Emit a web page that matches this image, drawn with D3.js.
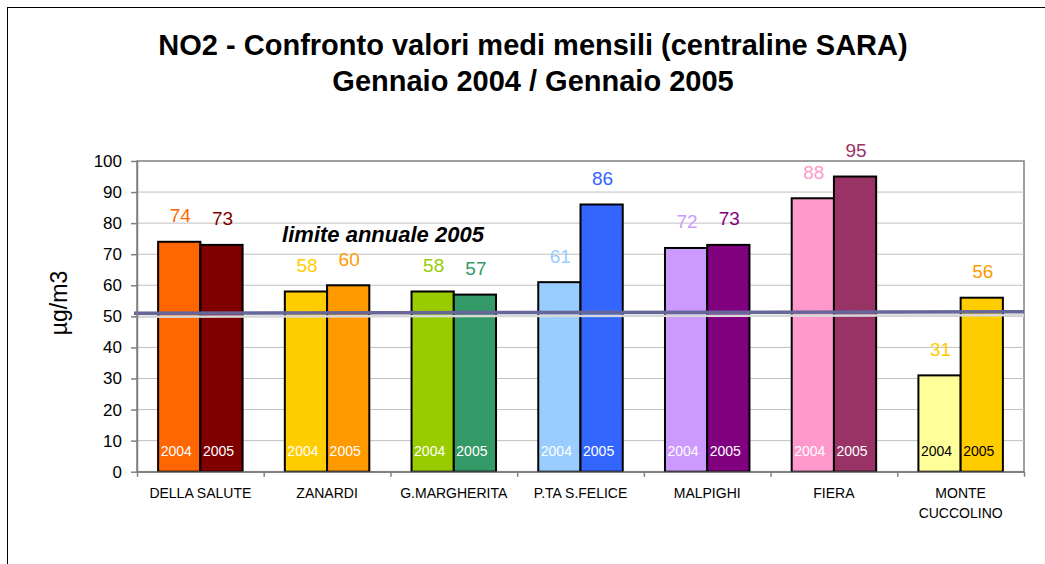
<!DOCTYPE html>
<html><head><meta charset="utf-8">
<script src="https://cdn.jsdelivr.net/npm/d3@7"></script>
<style>
body{margin:0;background:#fff}
svg{display:block;font-family:"Liberation Sans",Arial,Helvetica,sans-serif}
</style>
</head><body>
<svg id="c" width="1045" height="564"></svg>
<script>
// ---- data ----
const categories = ["DELLA SALUTE","ZANARDI","G.MARGHERITA","P.TA S.FELICE","MALPIGHI","FIERA","MONTE\nCUCCOLINO"];
const years = ["2004","2005"];
const values2004 = [74,58,58,61,72,88,31];
const values2005 = [73,60,57,86,73,95,56];
const colors2004 = ["#FF6600","#FFCC00","#99CC00","#99CCFF","#CC99FF","#FF99CC","#FFFF99"];
const colors2005 = ["#800000","#FF9900","#339966","#3366FF","#800080","#993366","#FFCC00"];
const valueLabelColors2004 = ["#FF6600","#FFCC00","#99CC00","#99CCFF","#CC99FF","#FF99CC","#FFCC00"];
const valueLabelColors2005 = ["#800000","#FF9900","#339966","#3366FF","#800080","#993366","#FF9900"];
const yearLabelColors2004 = ["#fff","#fff","#fff","#fff","#fff","#fff","#000"];
const yearLabelColors2005 = ["#fff","#fff","#fff","#fff","#fff","#fff","#000"];
const yTicks = [0,10,20,30,40,50,60,70,80,90,100];
const limitValues = [51.0, 51.5];
const limitLabel = "limite annuale 2005";
const titleLines = ["NO2 - Confronto valori medi mensili (centraline SARA)","Gennaio 2004 / Gennaio 2005"];
const yTitle = "µg/m3";

// ---- layout ----
const svg = d3.select("#c");
const L = 137, R = 1024, T = 161, B = 471.7;

svg.append("rect").attr("x",7.5).attr("y",7.5).attr("width",1100).attr("height",700)
  .attr("fill","#fff").attr("stroke","#000").attr("stroke-width",1);

const x = d3.scaleBand().domain(d3.range(categories.length)).range([L,R]).padding(0);
const bw = x.bandwidth();
const xi = d3.scaleBand().domain(years).range([bw/6, bw*5/6]).padding(0);
const y = d3.scaleLinear().domain([0,100]).range([B,T]);

// plot area
svg.append("rect").attr("x",L).attr("y",T).attr("width",R-L).attr("height",B-T)
  .attr("fill","#fff").attr("stroke","#808080").attr("stroke-width",1.5);

// gridlines
svg.append("g").selectAll("line").data(yTicks.filter(d=>d>0&&d<100)).join("line")
  .attr("x1",L).attr("x2",R).attr("y1",d=>y(d)).attr("y2",d=>y(d))
  .attr("stroke","#c0c0c0").attr("stroke-width",1);

// bars
const rows = [];
categories.forEach((c,i)=>{
  rows.push({i,year:"2004",v:values2004[i],fill:colors2004[i],lc:valueLabelColors2004[i],yc:yearLabelColors2004[i]});
  rows.push({i,year:"2005",v:values2005[i],fill:colors2005[i],lc:valueLabelColors2005[i],yc:yearLabelColors2005[i]});
});
const bx = d=>x(d.i)+xi(d.year);
const bars = svg.append("g");
bars.selectAll("rect").data(rows).join("rect")
  .attr("x",bx).attr("y",d=>y(d.v)).attr("width",xi.bandwidth()).attr("height",d=>y(0)-y(d.v))
  .attr("fill",d=>d.fill).attr("stroke","#000").attr("stroke-width",2);

// year labels inside bars
svg.append("g").selectAll("text").data(rows).join("text")
  .attr("x",d=>bx(d)+xi.bandwidth()/2-3).attr("y",y(0)-15.5)
  .attr("text-anchor","middle").attr("font-size",14).attr("fill",d=>d.yc).text(d=>d.year);

// value labels
svg.append("g").selectAll("text").data(rows).join("text")
  .attr("x",d=>bx(d)+xi.bandwidth()/2+1).attr("y",d=>y(d.v)-19.5)
  .attr("text-anchor","middle").attr("font-size",19).attr("fill",d=>d.lc).text(d=>d.v);

// limit line
const lx = d3.scaleLinear().domain([0,1]).range([L-3,R]);
svg.append("line").attr("x1",lx(0)).attr("x2",lx(1))
  .attr("y1",y(limitValues[0])+3.5).attr("y2",y(limitValues[1])+3.5)
  .attr("stroke","#d8d8d8").attr("stroke-width",2.5);
svg.append("line").attr("x1",lx(0)).attr("x2",lx(1))
  .attr("y1",y(limitValues[0])).attr("y2",y(limitValues[1]))
  .attr("stroke","#666699").attr("stroke-width",3.5);
svg.append("text").attr("x",383).attr("y",241.5).attr("text-anchor","middle")
  .attr("font-size",22).attr("font-weight","bold").attr("font-style","italic")
  .attr("fill","#000").text(limitLabel);

// y axis
const ya = svg.append("g").attr("transform",`translate(${L},0)`)
  .call(d3.axisLeft(y).tickValues(yTicks).tickSize(6).tickSizeOuter(0).tickPadding(9));
ya.select(".domain").attr("stroke","#808080").attr("stroke-width",1.5);
ya.selectAll(".tick line").attr("stroke","#808080").attr("stroke-width",1.5);
ya.selectAll(".tick text").attr("font-size",17).attr("fill","#000")
  .attr("font-family","'Liberation Sans',Arial,sans-serif");

// x axis (boundary ticks)
const xb = d3.scaleLinear().domain([0,categories.length]).range([L,R]);
const xa = svg.append("g").attr("transform",`translate(0,${B})`)
  .call(d3.axisBottom(xb).tickValues(d3.range(categories.length+1)).tickSize(5).tickSizeOuter(0).tickFormat(""));
xa.select(".domain").attr("stroke","#808080").attr("stroke-width",1.5);
xa.selectAll(".tick line").attr("stroke","#808080").attr("stroke-width",1.5);

// category labels
const cl = svg.append("g").selectAll("text").data(categories).join("text")
  .attr("x",(d,i)=>x(i)+bw/2).attr("y",498)
  .attr("text-anchor","middle").attr("font-size",14).attr("fill","#000");
cl.each(function(d){
  const t = d3.select(this);
  d.split("\n").forEach((ln,k)=>{
    t.append("tspan").attr("x",t.attr("x")).attr("dy",k===0?0:20).text(ln);
  });
});

// y title
svg.append("text").attr("transform","translate(67,303) rotate(-90)")
  .attr("text-anchor","middle").attr("font-size",23).attr("fill","#000").text(yTitle);

// title
svg.append("g").selectAll("text").data(titleLines).join("text")
  .attr("x",533).attr("y",(d,i)=>i===0?54.5:90.5).attr("text-anchor","middle")
  .attr("font-size",29).attr("font-weight","bold").attr("fill","#000").text(d=>d);
</script>
</body></html>
